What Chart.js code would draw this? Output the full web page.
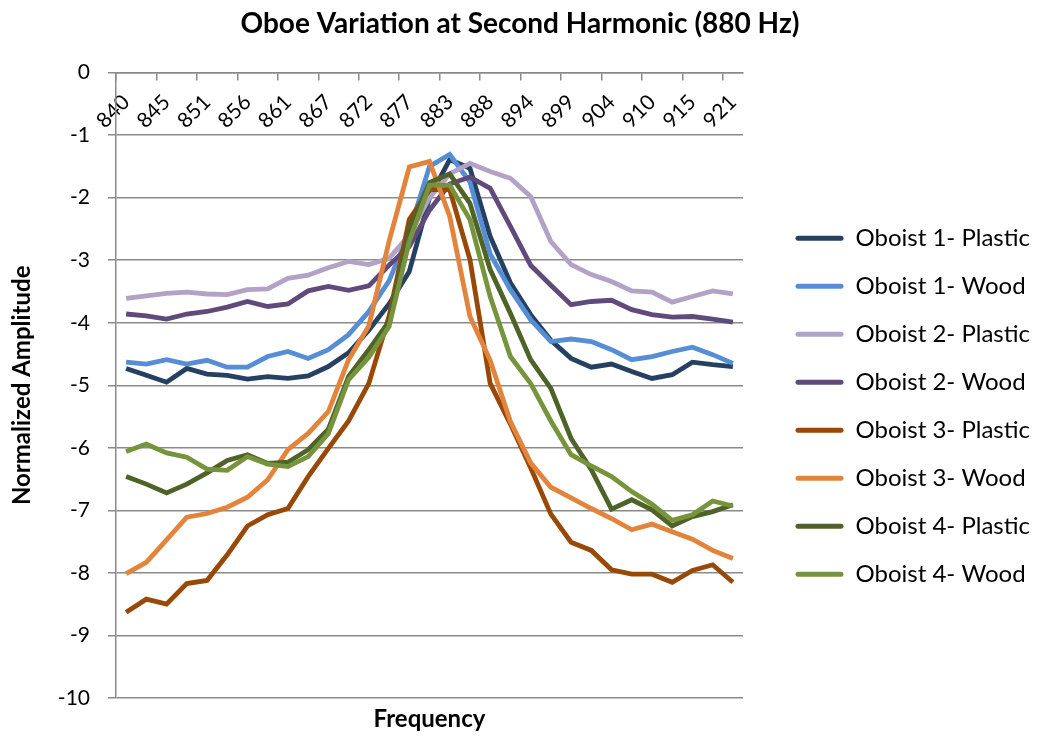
<!DOCTYPE html>
<html lang="en">
<head>
<meta charset="UTF-8" />
<title>Oboe Variation at Second Harmonic</title>
<script src="https://cdn.jsdelivr.net/npm/chart.js"></script>
<style>
    html, body { margin: 0; padding: 0; background: #fff; }
    #wrap { width: 1040px; height: 736px; }
</style>
</head>
<body>
<div id="wrap"><canvas id="oboeChart"></canvas></div>
<script>
// frequency bins (Hz), rounded as in the source axis
const freqLabels = ['840', '842', '845', '848', '851', '853', '856', '859', '861', '864', '867',
    '869', '872', '875', '877', '880', '883', '886', '888', '891', '894', '896', '899', '902',
    '904', '907', '910', '912', '915', '918', '921'];
const yTicks = [0, -1, -2, -3, -4, -5, -6, -7, -8, -9, -10];

const oboist1Plastic = [-4.73, -4.84, -4.95, -4.73, -4.82, -4.84, -4.90, -4.86, -4.89, -4.85, -4.70,
    -4.48, -4.12, -3.70, -3.18, -2.00, -1.39, -1.53, -2.62, -3.36, -3.87, -4.28, -4.57, -4.71,
    -4.66, -4.78, -4.89, -4.83, -4.63, -4.67, -4.70];
const oboist1Wood = [-4.63, -4.66, -4.59, -4.66, -4.60, -4.71, -4.71, -4.54, -4.46, -4.57, -4.43,
    -4.19, -3.82, -3.33, -2.55, -1.50, -1.31, -1.75, -2.90, -3.47, -3.95, -4.30, -4.26, -4.30,
    -4.43, -4.59, -4.54, -4.46, -4.39, -4.51, -4.65];
const oboist2Plastic = [-3.61, -3.57, -3.53, -3.51, -3.54, -3.55, -3.47, -3.46, -3.29, -3.24, -3.12,
    -3.02, -3.07, -2.97, -2.60, -2.00, -1.62, -1.45, -1.58, -1.69, -1.98, -2.70, -3.07, -3.23,
    -3.34, -3.49, -3.51, -3.67, -3.58, -3.49, -3.54];
const oboist2Wood = [-3.86, -3.89, -3.94, -3.86, -3.82, -3.75, -3.66, -3.74, -3.70, -3.49, -3.42,
    -3.48, -3.41, -3.08, -2.78, -2.20, -1.78, -1.67, -1.85, -2.46, -3.08, -3.40, -3.71, -3.66,
    -3.64, -3.79, -3.87, -3.91, -3.90, -3.94, -3.99];
const oboist3Plastic = [-8.63, -8.42, -8.50, -8.17, -8.12, -7.71, -7.25, -7.07, -6.97, -6.46, -6.01,
    -5.57, -4.97, -3.90, -2.35, -1.87, -1.87, -2.99, -4.97, -5.62, -6.32, -7.06, -7.51, -7.64,
    -7.95, -8.02, -8.02, -8.15, -7.96, -7.87, -8.15];
const oboist3Wood = [-8.01, -7.83, -7.47, -7.11, -7.05, -6.95, -6.79, -6.51, -6.03, -5.77, -5.42,
    -4.59, -4.05, -2.70, -1.51, -1.42, -2.30, -3.90, -4.60, -5.58, -6.24, -6.63, -6.80, -6.97,
    -7.13, -7.31, -7.22, -7.34, -7.46, -7.64, -7.77];
const oboist4Plastic = [-6.46, -6.58, -6.72, -6.58, -6.40, -6.20, -6.11, -6.25, -6.23, -6.03, -5.70,
    -4.86, -4.43, -3.98, -2.50, -1.76, -1.62, -2.09, -3.15, -3.85, -4.59, -5.05, -5.85, -6.35,
    -6.98, -6.83, -6.99, -7.25, -7.10, -7.02, -6.91];
const oboist4Wood = [-6.06, -5.94, -6.08, -6.15, -6.34, -6.36, -6.14, -6.26, -6.30, -6.14, -5.77,
    -4.91, -4.55, -4.06, -2.70, -1.80, -1.80, -2.35, -3.58, -4.54, -4.97, -5.57, -6.11, -6.29,
    -6.46, -6.70, -6.90, -7.16, -7.07, -6.85, -6.93];

const seriesNames = ['Oboist 1- Plastic', 'Oboist 1- Wood', 'Oboist 2- Plastic', 'Oboist 2- Wood',
    'Oboist 3- Plastic', 'Oboist 3- Wood', 'Oboist 4- Plastic', 'Oboist 4- Wood'];
const seriesValues = [oboist1Plastic, oboist1Wood, oboist2Plastic, oboist2Wood,
    oboist3Plastic, oboist3Wood, oboist4Plastic, oboist4Wood];
const seriesColors = ['#254061', '#558ed5', '#b3a2c7', '#604a7b',
    '#984807', '#e2843b', '#4f6228', '#77933c'];

const FONT = 'Lato, "Open Sans", sans-serif';
const GRID = '#8a8a8a';
const PLOT_RIGHT = 743;      // right edge of the plot area in the source
const LEG_FONT = 24;
const LEG_BOX = 48;
const LEG_PAD = 24;

const datasets = seriesNames.map((name, i) => ({
    label: name,
    data: seriesValues[i],
    borderColor: seriesColors[i],
    backgroundColor: seriesColors[i],
    borderWidth: 4.8,
    pointRadius: 0,
    tension: 0,
    fill: false,
    xAxisID: 'x',
    yAxisID: 'y',
    order: seriesNames.length - i   // later series painted on top, like the source
}));

new Chart(document.getElementById('oboeChart'), {
    type: 'line',
    data: { labels: freqLabels, datasets: datasets },
    options: {
        responsive: true,
        maintainAspectRatio: false,
        animation: false,
        layout: { padding: 0 },
        scales: {
            x: {
                type: 'category',
                position: { y: 0 },
                offset: true,
                grid: {
                    offset: true,
                    drawOnChartArea: false,
                    tickLength: 7,
                    lineWidth: 1.5,
                    color: c => (c.index % 2 === 0 ? GRID : 'rgba(0,0,0,0)')
                },
                border: { color: GRID, width: 1.5 },
                ticks: {
                    autoSkip: false,
                    minRotation: 45,
                    maxRotation: 45,
                    padding: 10,
                    color: '#000',
                    font: { family: FONT, size: 21 },
                    callback: function (v, i) { return i % 2 === 0 ? this.getLabelForValue(v) : ''; }
                }
            },
            xb: {
                type: 'category',
                position: 'bottom',
                grid: { display: false, drawTicks: false },
                border: { display: false },
                ticks: { display: false },
                title: {
                    display: true,
                    text: 'Frequency',
                    color: '#000',
                    font: { family: FONT, size: 24, weight: 'bold' },
                    padding: { top: 0, bottom: 2 }
                },
                afterFit: s => { s.height = 38; }
            },
            y: {
                min: -10,
                max: 0,
                afterBuildTicks: s => { s.ticks = yTicks.map(v => ({ value: v })); },
                grid: { color: GRID, lineWidth: 1.5, tickLength: 8 },
                border: { color: GRID, width: 1.5 },
                ticks: {
                    padding: 18,
                    color: '#000',
                    font: { family: FONT, size: 21 }
                },
                title: {
                    display: true,
                    text: 'Normalized Amplitude',
                    color: '#000',
                    font: { family: FONT, size: 24, weight: 'bold' },
                    padding: { top: 8, bottom: 0 }
                },
                afterFit: s => { s.width = 116; }
            },
            gap: {
                // empty spacer between plot and legend, sized so the plot ends where the source does
                position: 'right',
                grid: { display: false, drawTicks: false },
                border: { display: false },
                ticks: { display: false },
                afterFit: s => {
                    const ctx = s.ctx;
                    ctx.save();
                    ctx.font = `normal ${LEG_FONT}px ${FONT}`;
                    const textW = Math.max(...seriesNames.map(n => ctx.measureText(n).width));
                    ctx.restore();
                    const legendW = LEG_PAD + LEG_BOX + LEG_FONT / 2 + textW + 10;
                    s.width = Math.max(0, s.chart.width - PLOT_RIGHT - legendW);
                }
            }
        },
        plugins: {
            title: {
                display: true,
                text: 'Oboe Variation at Second Harmonic (880 Hz)',
                color: '#000',
                font: { family: FONT, size: 28, weight: 'bold' },
                padding: { top: 7, bottom: 32 }
            },
            legend: {
                position: 'right',
                maxWidth: 320,
                title: { display: true, text: '', font: { size: 12 }, padding: { top: 0, bottom: 62 } },
                labels: {
                    boxWidth: LEG_BOX,
                    boxHeight: 5,
                    padding: LEG_PAD,
                    color: '#000',
                    font: { family: FONT, size: LEG_FONT },
                    sort: (a, b) => a.datasetIndex - b.datasetIndex,
                    generateLabels: chart => Chart.defaults.plugins.legend.labels.generateLabels(chart)
                        .map(item => Object.assign(item, {
                            fillStyle: item.strokeStyle,
                            lineWidth: 0,
                            borderRadius: 2.5
                        }))
                }
            },
            tooltip: { enabled: false }
        }
    }
});
</script>
</body>
</html>
